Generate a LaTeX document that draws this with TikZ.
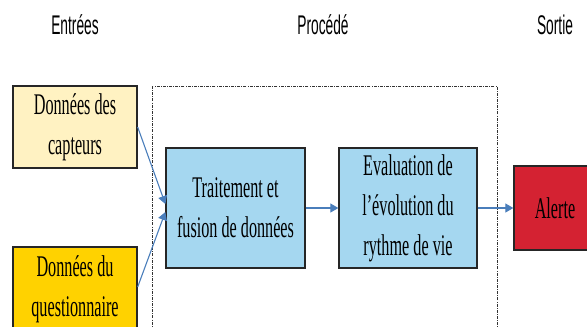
\documentclass[tikz,border=0pt]{standalone}
\usepackage{fontspec}
\usepackage{tikz}
\usetikzlibrary{arrows.meta, calc, positioning}
\newfontfamily\boxfont[FakeStretch=0.54]{Liberation Serif}
\newfontfamily\headfont[FakeStretch=0.51]{Liberation Sans}
\definecolor{capjaune}{HTML}{FFF2C2}
\definecolor{questor}{HTML}{FFD200}
\definecolor{procbleu}{HTML}{A5D7F0}
\definecolor{alerterouge}{HTML}{D42232}
\definecolor{flechebleu}{HTML}{4A7EBB}
\tikzset{
	etape/.style = {draw=black!85, line width=1.3pt, align=center, inner sep=0pt,
		font=\boxfont\fontsize{30}{40}\selectfont},
	titre/.style = {font=\headfont\fontsize{27}{30}\selectfont},
	fleche/.style = {draw=flechebleu, line width=1.1pt, -{Triangle[width=9pt,length=8pt]}}
}

\begin{document}
\begin{tikzpicture}[x=1pt, y=-1pt]
			\useasboundingbox (0,0) rectangle (587,327);
			\clip (0,0) rectangle (587,327);
			
			\node[titre] (hEntrees) at (75,25) {Entrées};
			\node[titre] (hProcede) at (323,25) {Procédé};
			\node[titre] (hSortie) at (555,25) {Sortie};
			
			\draw[black!80, line width=0.8pt, dash pattern=on 3pt off 1.2pt on 0.8pt off 1.2pt] (152,86) rectangle (497,340);
			
			\node[etape, fill=capjaune, minimum width=124pt, minimum height=82pt] (capteurs) at (75,127) {Données des\\capteurs};
			\node[etape, fill=questor, minimum width=124pt, minimum height=84pt] (questionnaire) at (75,289) {Données du\\questionnaire};
			\node[etape, fill=procbleu, minimum width=139pt, minimum height=120pt] (fusion) at (235.5,208) {Traitement et\\fusion de données};
			\node[etape, fill=procbleu, minimum width=138pt, minimum height=120pt] (evolution) at (408,208) {Evaluation de\\l’évolution du\\rythme de vie};
			\node[etape, fill=alerterouge, minimum width=82pt, minimum height=84pt] (alerte) at (555,208) {Alerte};
			
			\draw[fleche] ($(capteurs.east)+(0,0)$) -- ($(fusion.west)+(0,-4)$);
			\draw[fleche] ($(questionnaire.east)+(0,-2)$) -- ($(fusion.west)+(0,4)$);
			\draw[fleche] (fusion) -- (evolution);
			\draw[fleche] (evolution) -- (alerte);
\end{tikzpicture}
\end{document}
